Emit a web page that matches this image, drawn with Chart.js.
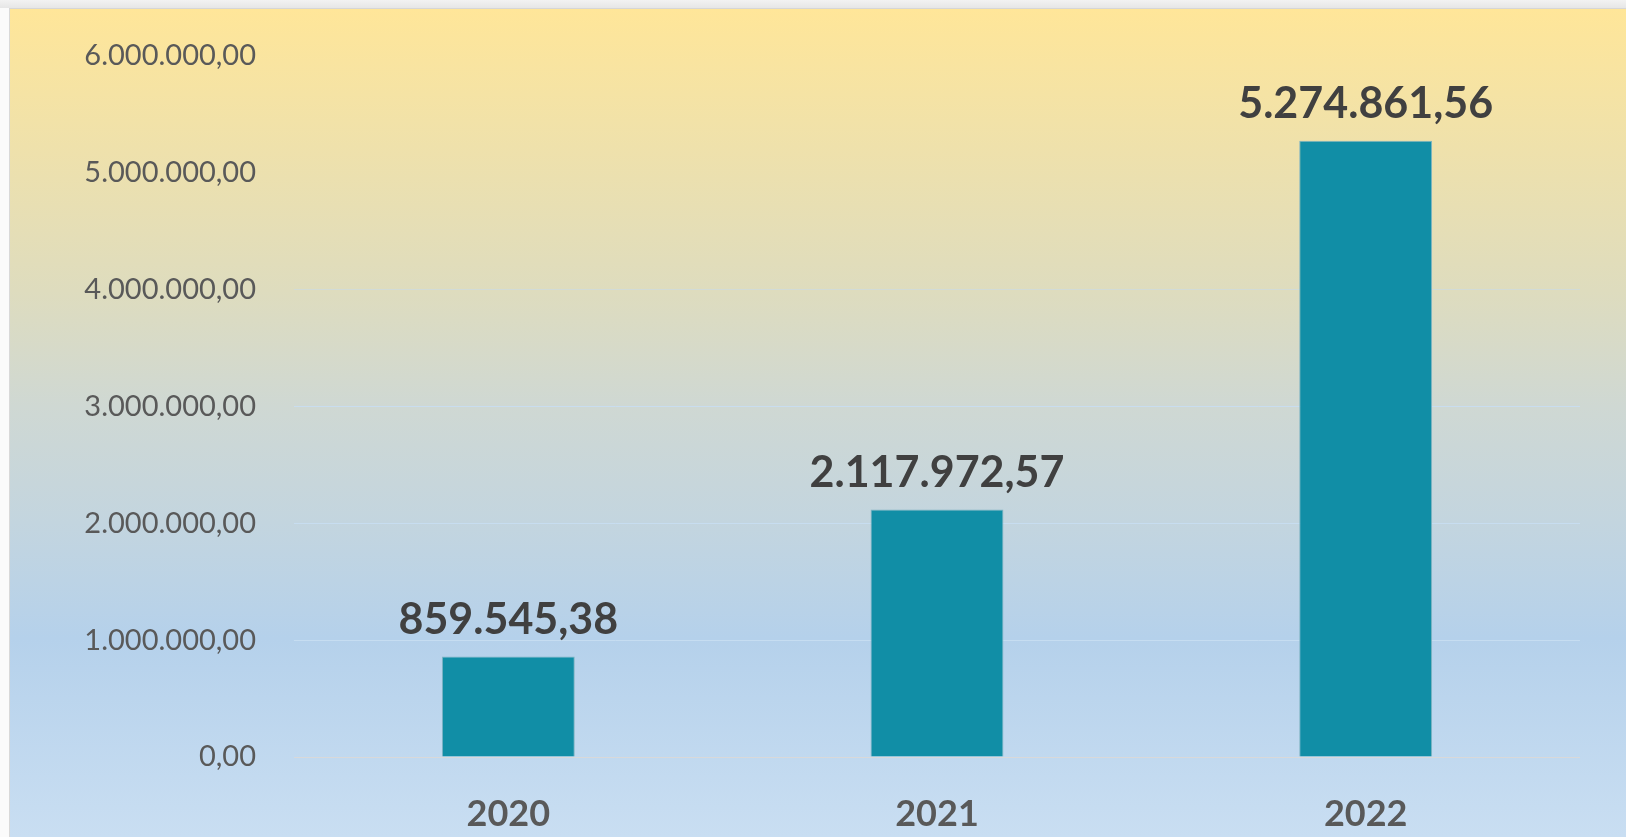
<!DOCTYPE html>
<html>
<head>
<meta charset="utf-8">
<script src="https://cdn.jsdelivr.net/npm/chart.js@4.4.1/dist/chart.umd.min.js"></script>
<style>
    html, body { margin: 0; padding: 0; background: #fbfbfb; overflow: hidden; }
    body { width: 1626px; height: 837px; position: relative; }
    #topStrip {
        position: absolute; left: 0; top: 0; width: 1626px; height: 8px;
        background: linear-gradient(to bottom, #f2f2f2, #e6e6e6);
    }
    #chartBox {
        position: absolute; left: 9px; top: 8px; width: 1617px; height: 829px;
        border-left: 1px solid #d9d9d9; border-top: 1px solid #d6d6d6;
        box-sizing: border-box;
        background: linear-gradient(to bottom, #ffe699 0%, #dedcbe 34%, #cfd8d3 48%, #c3d5df 62%, #b5d1eb 76%, #c9def2 100%);
    }
    #diagramCanvas { display: block; }
</style>
</head>
<body>
<div id="topStrip"></div>
<div id="chartBox"><canvas id="diagramCanvas" width="1616" height="828"></canvas></div>
<script>
//Chart content
const yearLabels = ['2020', '2021', '2022']
const amounts = [859545.38, 2117972.57, 5274861.56]
const yTickValues = [0, 1000000, 2000000, 3000000, 4000000, 5000000, 6000000]

//German number format, e.g. 5.274.861,56
function formatAmount(value)
{
    const parts = Math.abs(value).toFixed(2).split('.')
    const whole = parts[0].replace(/\B(?=(\d{3})+(?!\d))/g, '.')
    return (value < 0 ? '-' : '') + whole + ',' + parts[1]
}

//Draws the value above every bar
const valueLabelPlugin = {
    id: 'valueLabels',
    afterDatasetsDraw(chart)
    {
        const ctx = chart.ctx
        const meta = chart.getDatasetMeta(0)
        ctx.save()
        ctx.font = 'bold 43px Lato'
        ctx.fillStyle = '#404040'
        ctx.textAlign = 'center'
        ctx.textBaseline = 'alphabetic'
        meta.data.forEach((bar, i) => {
            ctx.fillText(formatAmount(chart.data.datasets[0].data[i]), bar.x, bar.y - 23)
        })
        ctx.restore()
    }
}

Chart.defaults.font.family = 'Lato'
const diagramCanvas = document.getElementById('diagramCanvas')
const diagramChart = new Chart(
    diagramCanvas,
    {
        type: 'bar',
        data:
        {
            labels: yearLabels,
            datasets:
                [{
                    data: amounts,
                    backgroundColor: '#118ea6',
                    borderColor: '#7fb4c2',
                    borderWidth: 1,
                    barPercentage: 0.62,
                    categoryPercentage: 0.5
                }]
        },
        plugins: [valueLabelPlugin],
        options:
        {
            responsive: false,
            animation: false,
            layout: { padding: { top: 47, right: 46, bottom: 0, left: 0 } },
            scales:
            {
                y:
                {
                    min: 0,
                    max: 6000000,
                    afterFit: scale => {
                        scale.width = 284
                        //tick padding would otherwise push the chart area down
                        scale.paddingTop = 0
                        scale.paddingBottom = 0
                    },
                    afterBuildTicks: scale => { scale.ticks = yTickValues.map(v => ({ value: v })) },
                    border: { display: false },
                    grid:
                    {
                        drawTicks: false,
                        lineWidth: 1,
                        color: c => {
                            const v = c.tick ? c.tick.value : 0
                            if (v === 0) return '#d9d9d9'
                            if (v >= 5000000) return 'rgba(0,0,0,0)'
                            if (v === 4000000) return 'rgba(200,218,232,0.6)'
                            return 'rgba(200,222,242,0.9)'
                        }
                    },
                    ticks:
                    {
                        padding: 38,
                        color: '#595959',
                        font: { size: 29 },
                        callback: value => formatAmount(value)
                    }
                },
                x:
                {
                    afterFit: scale => { scale.height = 80 },
                    border: { display: false },
                    grid: { display: false, drawTicks: false },
                    ticks:
                    {
                        padding: 36,
                        color: '#595959',
                        font: { size: 36, weight: 'bold' }
                    }
                }
            },
            plugins:
            {
                legend: { display: false },
                tooltip: { enabled: false }
            }
        }
    }
);
</script>
</body>
</html>
